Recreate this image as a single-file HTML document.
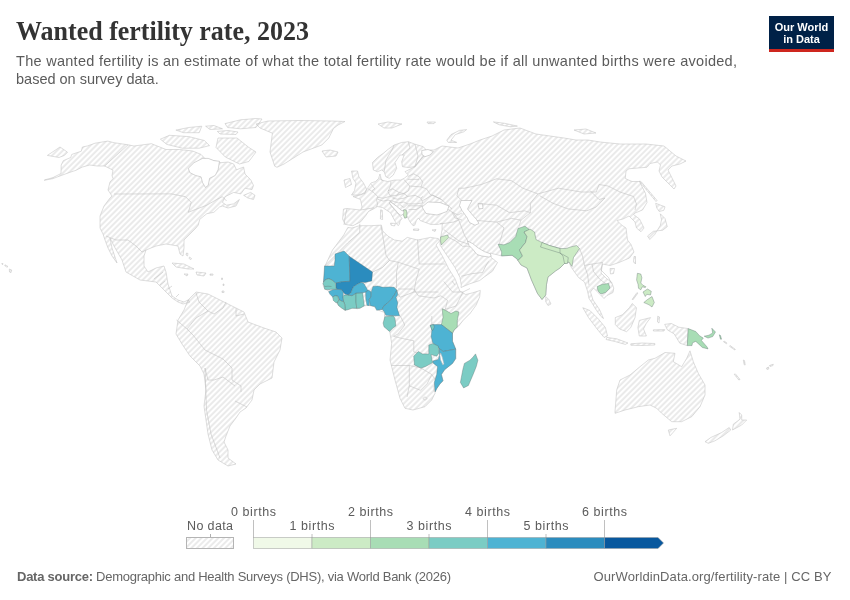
<!DOCTYPE html>
<html><head><meta charset="utf-8">
<style>
html,body{margin:0;padding:0;background:#fff;width:850px;height:600px;overflow:hidden}
svg{will-change:transform}
svg{display:block}
text{font-family:"Liberation Sans",sans-serif}
</style></head><body>
<svg width="850" height="600" viewBox="0 0 850 600">
<defs>
<pattern id="hatch" patternUnits="userSpaceOnUse" width="4" height="4" patternTransform="rotate(-45 2 2)">
<path d="M -1,2 l 6,0" stroke="#d6d6d6" stroke-width="1"/>
</pattern>
</defs>
<rect width="850" height="600" fill="#fff"/>
<text x="16" y="40" font-family="Liberation Serif" font-weight="bold" font-size="27.5" fill="#333" textLength="293" lengthAdjust="spacingAndGlyphs" style="font-family:'Liberation Serif',serif">Wanted fertility rate, 2023</text>
<text x="16" y="66.3" font-size="14.5" fill="#5b5b5b" textLength="721" lengthAdjust="spacing">The wanted fertility is an estimate of what the total fertility rate would be if all unwanted births were avoided,</text>
<text x="16" y="83.9" font-size="14.5" fill="#5b5b5b">based on survey data.</text>
<g id="logo">
<rect x="769" y="16" width="65" height="36" fill="#002147"/>
<rect x="769" y="49" width="65" height="3" fill="#ce261e"/>
<text x="801.5" y="30.6" font-size="11" font-weight="bold" fill="#fff" text-anchor="middle">Our World</text>
<text x="801.5" y="42.6" font-size="11" font-weight="bold" fill="#fff" text-anchor="middle">in Data</text>
</g>
<g id="map"><g fill="url(#hatch)" stroke="#c2c2c2" stroke-width="0.55" stroke-linejoin="round"><path d="M61.2,165 L63.3,160.7 L70.7,157.5 L71.8,154.4 L81.3,151.2 L82.4,147 L87.7,145.9 L95,143.2 L107.8,141.1 L114,142.7 L128,144.8 L134,146 L151.4,143.7 L166,149.5 L179.4,149.5 L192.6,151 L201,154.4 L205.8,159.4 L213.9,160.6 L221,162.7 L228,162 L233.7,164 L236.5,169.8 L243.6,167 L245,174 L250.7,179.7 L253.5,185.4 L252,189.6 L245,188.2 L240.8,193.9 L233.7,192.4 L225.2,196.7 L222.4,202.4 L226.6,205.2 L233.7,203.8 L239.4,199.5 L236,206 L228,208 L222.4,206 L219.5,207 L213.9,212.3 L206.8,213.7 L199.7,219.4 L198.3,225 L196,228 L190,234 L184,240 L184,248 L183,256 L180,254 L178,246 L166,244 L156,246 L146,250 L144,256 L144,266 L148,272 L156,268 L164,266 L166,272 L168,284 L172,296 L178,300 L184,302 L188,300 L190,302 L183,304 L178,302 L172,298 L166,292 L156,282 L148,281 L140,280 L126,272 L122,260 L114,246 L110,238 L112,248 L116,260 L117,263 L112,256 L108,248 L105,240 L103,234 L100,228 L100,220 L100,216 L104,206 L110,198 L112,196 L108,190 L110,182 L113,178.7 L112,175.5 L113,170.2 L108.9,168.1 L104.6,166 L97.2,166 L89.8,165 L82.4,167 L76,170.3 L69.7,172.4 L61.2,175.5 L52.7,178.7 L44.2,180.3 L45,179.8 L53,177.6 L61,173.5Z"/><path d="M47.4,155.4 L60,147 L64.4,150 L67.5,152.2 L64.4,155.4 L59,157.5Z"/><path d="M1.8,263.5 L3,263.5 L2.5,264.8Z"/><path d="M5,264.8 L8,266.5 L7,267.2 L4.8,265.8Z"/><path d="M9.3,269 L11.7,270 L11,272.7 L9.5,272Z"/><path d="M186.5,253 L188,253.5 L187.5,256 L186,255Z"/><path d="M189.5,257 L191.5,258.5 L191,259.5 L189,258.5Z"/><path d="M210,274 L213,274 L213,275.2 L210,275.2Z"/><path d="M221.5,278 L222.5,278 L222.5,279.5 L221.5,279.5Z"/><path d="M223,284 L224,284 L224,285.5 L223,285.5Z"/><path d="M222,291 L224,291 L224,292.5 L222,292.5Z"/><path d="M256,124 L268,121 L300,120.5 L332,121 L345,121.5 L338,125 L333.5,128.5 L328.8,138 L321.8,145 L303,152 L284,164 L277,167.3 L274.7,166.2 L270,152 L272.4,133.2 L260,128Z"/><path d="M225,123.6 L240.6,119.8 L256,118.5 L262,119 L256,127.5 L240.6,128.8 L227.6,127.5Z"/><path d="M217.3,131.4 L228,130.5 L238,132 L236,134.5 L220,134Z"/><path d="M205.6,126.2 L214,125.5 L222.5,128.8 L210,129.5Z"/><path d="M175.9,130.1 L188.8,127.5 L201.8,126.2 L199.2,132.7 L183.6,132.7Z"/><path d="M160.4,139.2 L169.4,135.3 L188.8,136.6 L204.4,140.5 L209.5,145.6 L199.2,148.2 L182.4,148.2 L166.8,144.4Z"/><path d="M218,138 L237,138 L248.8,147.4 L256,152 L248.8,161.5 L239.4,164 L225.3,157 L216,147.4Z"/><path d="M243.6,195.3 L250.7,192.4 L255,195.3 L253.5,199.5 L247.9,198Z"/><path d="M172,263 L184,264 L194,269 L188,269 L176,267Z"/><path d="M196,272 L206,273 L204,276 L197,275Z"/><path d="M184,274 L188,274 L187,276Z"/><path d="M188,300 L196,292 L208,294 L224,302 L236,308 L244,312 L248,322 L264,328 L276,332 L282,338 L280,350 L274,362 L272,378 L260,384 L254,390 L252,400 L246,408 L240,412 L236,418 L230,426 L226,436 L224,442 L228,450 L228,458 L236,464 L228,466 L218,460 L212,450 L208,434 L206,420 L204,406 L206,390 L204,374 L200,366 L190,356 L182,344 L176,334 L178,320 L184,310Z"/><path d="M345.2,224.4 L342.6,219.2 L343.5,209 L347,208.5 L360.5,210 L362,207 L360.5,199.5 L353,196.5 L360.5,195 L365,192 L368,187.5 L371,183 L375.5,181.5 L378.5,178.5 L380,174 L381.5,180 L387.5,181.5 L395,180 L400.8,180 L404.2,178.3 L408.3,175 L405,171.7 L415,166.7 L420,160 L424,154 L430,150 L434,150 L442,146 L458,148 L470,144 L480,140 L492,136 L504,130 L520,128 L536,134 L550,136 L564,138 L576,140 L588,140 L600,142 L620,144 L646,144 L664,146 L676,156 L686,161 L680,164 L672,166 L668,170 L672,178 L676,186 L674,189 L668,183 L662,177 L659,171 L660.5,165 L657.5,162 L650,163.5 L647,167.25 L629,168.75 L626,171 L625.25,178.5 L632,181.5 L639.5,181.5 L645.5,193.5 L647,202.5 L642.5,210 L635,213 L633.5,214.5 L639.5,219 L644,228 L641,231.75 L636.5,228 L635,222 L629,216 L623,219 L617,220.5 L621.5,225 L626,228 L627.5,240 L631,244.5 L634,252 L629.5,258 L619,262.5 L610,265.5 L602.5,264 L601,273 L607,279 L611.5,282 L613.75,288 L613,292.5 L607,295.5 L604,298.5 L599.5,294 L593.5,288 L590.5,292 L593,300 L599.5,309.5 L603.5,318.5 L601,316.5 L596.5,310.5 L592,303 L589,298.5 L587.5,291 L584.5,282 L578.5,277.5 L571,267 L569,262 L564.5,263.5 L560,268 L555.5,271 L548,277 L546.5,284.5 L545.75,295 L542,299.5 L537.5,293.5 L531.5,280 L527,268 L521,265 L518,260.5 L516.8,258.8 L512.1,255.3 L501.6,255.9 L490,253 L491.25,257.5 L497.5,262.5 L492.5,271.2 L484.3,277 L479.7,280.5 L469.2,284 L461,287.5 L461.25,285 L460,277.5 L455,267.5 L447.5,256.25 L440,245 L440,240 L440.9,236.1 L442,230 L442.2,223.1 L438.4,224.4 L430.6,224.4 L420.2,220.5 L418.5,218 L416.4,220.5 L414.8,225.2 L413,225.7 L409.9,221.8 L407.3,216.6 L405.4,218 L404.5,211.4 L401.2,210.6 L396.3,206.5 L390.5,201.5 L389.7,204 L394.7,209.8 L398.8,214.7 L402,218.5 L400,221 L399.5,224 L398.2,225.7 L396,223 L390.5,212.8 L382.7,207.6 L377.4,206.5 L373.6,208.9 L368.5,211.5 L365.9,215.4 L360.7,221.8 L352.9,225.7Z"/><path d="M372.5,162.5 L377.5,157.5 L383.3,153.3 L388.3,149.2 L394.2,145 L401.7,142.5 L408.3,141.7 L415,144.2 L423.3,146.7 L428,152 L420,160 L415,166.7 L408.3,167.5 L402.5,166.7 L401.7,161.7 L404.2,155 L400,155 L395,162.5 L396.7,168.3 L393.3,175 L389.2,178.3 L385.8,176.7 L384.2,171.7 L381.7,170 L377.5,171.7 L373.3,170Z"/><path d="M390.5,223.1 L395.6,223.5 L394.5,226 L391,225.2Z"/><path d="M380.6,209.8 L382.3,210.3 L382.6,219.5 L380.4,219Z"/><path d="M413.5,229 L419,229 L418.5,230.5 L413.5,230.3Z"/><path d="M432,230 L436,229.5 L435,231.5Z"/><path d="M351.5,171 L357.5,171 L359,177 L363.5,183 L366.5,189 L365,193.5 L357.5,195 L351.5,195 L354.5,190.5 L356,183 L353,178.5Z"/><path d="M344,180 L350,178.5 L351.5,184.5 L345.5,187.5Z"/><path d="M322,151 L330,150 L338,152 L336,156 L326,157Z"/><path d="M378,124 L388,122 L402,124 L392,128 L384,128Z"/><path d="M446.8,140.2 L451,134.6 L459.5,130.4 L466.6,129.6 L463.8,131.8 L455.3,134.6 L451,140.2 L456.7,142.4 L448.2,142.4Z"/><path d="M427,122 L435.5,122 L434,123.6 L428,123.6Z"/><path d="M493.4,121.9 L504.7,123.3 L517.4,126.1 L510.4,126.8 L499,124.7Z"/><path d="M574,130 L586,129 L596,133 L584,134Z"/><path d="M347.8,227.5 L352,228 L359.4,225.7 L371.1,225.7 L381.4,225.1 L382.7,230.9 L387.9,236.1 L394.4,240 L402.1,241.2 L407.3,237.4 L417.6,240 L430.6,237.4 L438.4,238.6 L439.5,241 L436,245 L442.5,256.25 L448.75,268.75 L455,278.75 L459.8,291 L465.7,294.5 L472.7,292.8 L480.3,290.4 L479.7,296.8 L476.2,305 L470.3,313.2 L463.3,320.2 L458.7,326 L454.1,330.1 L452.5,333.2 L452.5,341.2 L455.7,349.1 L455.7,358.6 L452.5,363.4 L444.6,369.7 L441.4,374.5 L443,380.8 L439.9,384 L436.7,388.7 L435.1,391.9 L435,393.3 L431.7,400 L425,406.7 L413,410 L405,408.3 L400,398.3 L395,380 L390,360 L391.7,343.3 L390,333.3 L389.75,331.25 L384.5,325.25 L384.5,317 L384.5,312.5 L378.5,310.25 L374,306.5 L370.25,305 L365,305.75 L357.5,308.75 L350,307.25 L344.75,310.25 L338,305 L333.5,296.75 L329,291.5 L324.5,288.5 L323,284.75 L323.75,280 L325,266 L332.5,250 L343.9,234.8Z"/><path d="M545.75,296.5 L548.75,299.5 L551,304 L548,305.5 L545.75,301.75Z"/><path d="M655.7,203.3 L665,206.8 L663.8,210.3 L659.2,211.5 L656.8,208Z"/><path d="M660.3,213.8 L665,218.5 L667.3,226.7 L662.7,230.2 L653.3,231.3 L647.5,236 L649.8,239.5 L654.5,234.8 L660.3,225.5 L661.5,219.7Z"/><path d="M639.3,181.2 L641,181.5 L657,200.5 L656,201.5Z"/><path d="M634,256.5 L635.5,256.5 L635.5,264 L633.5,262Z"/><path d="M610,268.5 L614.5,268.5 L613.5,273.5 L610.5,274Z"/><path d="M637,292.5 L637.8,293.2 L633,299.8 L632.2,299.3Z"/><path d="M615.3,317.6 L622.4,314.8 L629.4,307.7 L632.2,303.5 L636.5,307.7 L635,317.6 L630.8,327.5 L626.6,331.7 L619.5,328.9 L615.3,324.6Z"/><path d="M582.8,307.7 L589.9,310.5 L598.4,319 L605.4,327.5 L607.5,336 L604,337.4 L597,328.9 L588.5,317.6Z"/><path d="M606.8,337.4 L616.7,338.8 L628,343 L625.2,344.4 L615.3,341.6 L606.1,339.5Z"/><path d="M639.3,320.4 L650.6,317.6 L646.4,323.2 L643.5,328.9 L646.4,336 L639.3,336 L637.9,327.5Z"/><path d="M630.8,343.8 L642,343 L654.8,343.5 L654.8,345 L642,345.5 L630.8,345.2Z"/><path d="M664.7,324.4 L671.3,323.5 L678.8,327.2 L688.2,328.6 L687.3,345.6 L679.8,343.2 L674.1,333.8 L667.5,330Z"/><path d="M724,341 L727,343 L726.5,343.8 L723.5,341.8Z"/><path d="M730,345.5 L735.3,349.3 L734.8,350 L729.5,346.3Z"/><path d="M657.7,316.2 L659.5,317 L659,323 L657.5,322Z"/><path d="M653.4,329.8 L664.7,329.6 L664,331 L653.4,331Z"/><path d="M743.3,360 L744.5,360.5 L745.2,365 L744.2,364.8Z"/><path d="M734.2,374.2 L735.5,374 L740,379.5 L738.8,380Z"/><path d="M766.5,368 L768.5,367 L768.8,369 L767,369.5Z"/><path d="M769.5,365.5 L773.3,364.2 L773,365.5 L770,366.5Z"/><path d="M615,411.7 L616.7,390 L620,380 L630,375 L640,366.7 L648.3,360 L655,358.3 L665,352.5 L675,353.3 L673.3,361.7 L681.7,366.7 L686.7,358.3 L690,350.8 L693.3,361.7 L698.3,373.3 L705,385 L705,395 L700,406.7 L691.7,416.7 L681.7,421.7 L671.7,421.7 L661.7,413.3 L656.7,408.3 L650,405 L638.3,406.7 L625,410 L615,413.3Z"/><path d="M668.3,430 L676.7,428.3 L673,432.5 L670,435.8Z"/><path d="M705,441.7 L710.8,437.5 L721.7,432.5 L729.2,427.5 L730.8,430 L723.3,435.8 L715,440.8 L708.3,443.3Z"/><path d="M733.3,424.2 L740,419.2 L739.2,412.5 L741.7,415 L741.7,420 L746.7,420 L741.7,425 L732.5,430Z"/></g><g fill="none" stroke="#bfbfbf" stroke-width="0.55"><path d="M446,208 L452,212 L458,215 L462,213"/><path d="M452,212 L455,218 L462,220"/><path d="M154,279 L158,276 L163,272"/><path d="M160,285 L165,281"/><path d="M168,289 L172,286"/><path d="M176,297 L179,294"/><path d="M187.5,301 L189.5,299.5"/><path d="M360.5,210 L374,207.75"/><path d="M347,208.5 L345.5,215 L344,225"/><path d="M368.2,188.8 L373.8,192.6 L377.6,196.4 L376.6,200.1 L377.6,203.9 L376.6,207"/><path d="M371,184.1 L374.8,188.8 L372,190.7"/><path d="M380.4,179.4 L383,180.5"/><path d="M390.8,181.3 L390.8,185.1 L388,191.6"/><path d="M377.6,197.3 L383.2,198.2 L389.8,196.4 L394.5,197.3"/><path d="M388,190.7 L392.6,188.8 L399.2,192.6 L396.4,195.4 L389.8,195.4 L388,191.6"/><path d="M403.9,179.4 L409.6,186 L408.6,190.7 L403.9,193.5 L399.2,192.6"/><path d="M396.4,195.4 L403.9,193.5 L407.7,196.4 L403.9,198.2 L397.4,199.2 L392.6,198.2"/><path d="M377.6,199.2 L383.2,201.1 L388,200.1 L392.6,201.1"/><path d="M392.6,201.1 L398.3,202.9 L403.9,202 L407.7,203.9 L403.9,207.6 L400.2,204.8"/><path d="M407.7,196.4 L415.2,195.4 L420.9,198.2 L422.8,202.9 L416.2,203.9 L407.7,203.9"/><path d="M407.7,205.8 L422.8,205.8 L416.2,209.5 L408.6,209.5"/><path d="M409.6,186 L420.9,186.9 L426.5,188.8 L430.3,194.5 L435,196.4 L441.5,199.5"/><path d="M420.9,198.2 L422.8,196.4"/><path d="M407.7,176.6 L413.4,173.8 L419,176.6 L422.8,182.2 L420.9,186.9"/><path d="M407.7,179.4 L419,179.4"/><path d="M398,289 L413.8,289 L418.3,295.8 L434,298 L440.8,295.8 L447.5,300.3 L445.3,309.3"/><path d="M400.3,316 L404.8,325 L398,334 L393.5,336.3"/><path d="M431.8,316 L431.8,325"/><path d="M393.5,336.3 L402.5,338.5 L413.8,340.8 L413.8,352 L422.8,354.3"/><path d="M391.3,365.5 L409.3,365.5 L420.5,367.8"/><path d="M409.3,365.5 L409.3,385.8 L407,397"/><path d="M420.5,367.8 L431.8,374.5 L427.3,383.5 L420.5,390.3 L409.3,385.8"/><path d="M431.8,374.5 L436.3,381.3"/><path d="M434,385.8 L434,391.4"/><path d="M422.8,398.5 L425,396.8 L427.3,398.5 L425,400.3 L422.8,398.5"/><path d="M579.5,248.5 L582.5,256 L584.5,265.5 L587.5,274.5 L589,285"/><path d="M584.5,265.5 L592,264 L593.5,271.5 L599.5,279 L605.5,283.5"/><path d="M592,264 L602.5,262.5 L601,270 L608.5,277.5 L611.5,283.5"/><path d="M448.75,237.5 L456.25,241.25 L462.5,246.25 L471.25,246.25"/><path d="M461.25,276.25 L471.25,273.75 L482.5,272.5 L486.25,265 L488.75,261.25"/><path d="M455,285 L452,281"/><path d="M114,194 L160,193.9 L171.3,193.9 L185.5,196.7 L191.2,202.4 L188.3,212.3 L195.4,209.5 L206.8,205.2 L216.7,199.5 L222.4,196.7 L226.6,201"/><path d="M128,144.8 L104.6,166"/><path d="M106,236 L116,240 L128,240 L136,246 L142,252 L146,250"/><path d="M458.8,188.2 L464.5,188.2 L481.4,184.5 L496.5,178.8 L511.5,180.7 L522.8,188.2 L537.9,193.9 L558.6,188.2 L581.2,192 L596.2,192 L599,184.5 L608,186 L620,192 L633.5,196.5 L636.5,204 L635,210"/><path d="M458.8,188.2 L457,195.8 L460.7,199.5"/><path d="M539.8,195.8 L553,203.3 L568,208.9 L586.8,210.8 L596.2,207 L605,198 L599,199.5 L590,190.5"/><path d="M537.9,193.9 L530.4,203.3 L530.4,212.7"/><path d="M477.6,203.3 L496.5,205.2 L509.6,212.7 L524.7,210.8 L530.4,212.7 L521,220.2 L519,225.9"/><path d="M473.9,220.2 L496.5,222.1 L504,227.8"/><path d="M496.5,222.1 L511.5,218.4 L521,220.2"/><path d="M504,227.8 L499,245"/><path d="M453.2,212.7 L458.8,220.2 L464.5,235.3 L470.1,244.7"/><path d="M443.8,229.6 L458.8,240.9 L470.1,244.7"/><path d="M440,224 L453.2,222.1 L458.8,220.2"/><path d="M422,201 L432.5,195 L441.5,199.5 L452,209"/><path d="M384.2,171.7 L386,160 L392,150 L394.2,145"/><path d="M402,155 L410,148 L408.3,141.7"/><path d="M415,166.7 L418,156 L415,144.2"/><path d="M340.5,250 L347.5,243 L359.75,232.5 L359.75,223.75"/><path d="M324.5,266 L340.5,250"/><path d="M372.5,272 L382.5,267.5 L389.5,260.5 L386,255.25 L382.5,234.25 L380.75,225.5"/><path d="M389.5,260.5 L398.25,262.25 L419.25,269.25"/><path d="M417.5,239.5 L419.25,264 L445.5,264"/><path d="M398.25,262.25 L396.5,272.75 L396.5,288.5"/><path d="M350.7,293 L356,289 L364,283.7"/><path d="M419.25,269.25 L415.75,281.5 L414,292 L400,297.25 L396.5,291.5"/><path d="M414,292 L438.5,292"/><path d="M443.75,281.5 L452.5,292 L463,292 L456,306 L443.3,310"/><path d="M470,288.5 L463,292"/><path d="M196,293 L199,302 L208,311 L214,314 L223,308 L226,302"/><path d="M236,308 L236,316 L244,314"/><path d="M176.5,320 L187,329 L193,335 L205,350 L223,359 L232,368 L232,380 L241,386 L241,392"/><path d="M187,329 L196,318 L208,311"/><path d="M205,368 L208,380 L214,380 L223,377 L235,386"/><path d="M205,368 L206.5,410 L211,434 L220,458"/><path d="M235,401 L247,407"/></g><g stroke="#5a6a6a" stroke-opacity="0.6" stroke-width="0.6" stroke-linejoin="round"><path d="M344,251 L349.2,256.2 L350,281.3 L342.7,281.7 L336,283 L335.3,283 L332,280 L328.7,278.7 L325.3,279.7 L323.5,282 L324,275 L324.5,266 L334.25,266 L335,260 L335,254Z" fill="#4eb3d3"/><path d="M349.2,256.2 L372.5,272 L371.75,281 L365,282.5 L361.3,282.3 L357.3,284.3 L353.3,287 L350.7,293 L348,295 L345.3,294.3 L343.3,292.3 L341.3,289.7 L336.7,289.3 L336,287.7 L336,283 L342.7,281.7 L350,281.3Z" fill="#2b8cbe"/><path d="M323,283.3 L325.3,279.7 L328.7,278.7 L332,280 L335.3,283 L336,287.7 L336.7,289.3 L330.7,289.3 L328.7,289.7 L324.7,289.3 L324,285.7Z" fill="#7bccc4"/><path d="M328.7,291.7 L332.7,289.7 L336.7,289.3 L341.3,289.7 L343.3,292.3 L343,297 L343.7,301.7 L341.3,301 L339.3,299.7 L338,296.3 L335.3,295.7 L332.7,297 L330,294.3Z" fill="#4eb3d3"/><path d="M332.7,297 L335.3,295.7 L338,296.3 L338.7,300.3 L337.3,303 L335.3,302.3 L333.3,300.3Z" fill="#7bccc4"/><path d="M343.7,301.7 L343,297 L344,295 L348,295 L352,295.7 L356,293 L356,301.7 L356.7,308.3 L352,308.3 L348,309.7 L345.3,310.3 L344.7,304.3Z" fill="#7bccc4"/><path d="M356,293 L362.7,292.7 L363.3,298.3 L364.3,305.7 L360,308.3 L356.7,308.3 L356,301.7Z" fill="#7bccc4"/><path d="M350.7,293 L353.3,287 L357.3,284.3 L361.3,282.3 L364,283.7 L366.7,288.3 L368,291 L365.3,292.3 L362.7,292.7 L356,293 L352,295.7 L348,295Z" fill="#4eb3d3"/><path d="M365.7,291.9 L368.4,290.1 L371.2,291.9 L371.2,296.5 L369.3,299.3 L369.3,305.7 L367,305.2 L365.7,298.3Z" fill="#4eb3d3"/><path d="M371.2,291.9 L373,286.4 L377.6,286 L383.1,287.3 L389.5,286.9 L394.1,287.3 L396.9,290.1 L395,293.8 L391.4,299.3 L386.8,303.9 L384,305.7 L382.2,309.4 L376.7,310.3 L374.8,306.6 L370.3,305.7 L369.3,299.3 L371.2,296.5Z" fill="#4eb3d3"/><path d="M396.9,290.1 L397.8,294.7 L396,297.4 L397.8,302.9 L396.9,307.5 L399.6,315.8 L393.2,315.8 L385.9,315.3 L384,311.2 L382.2,309.4 L384,305.7 L386.8,303.9 L391.4,299.3 L395,293.8Z" fill="#4eb3d3"/><path d="M384.9,316.7 L390.4,316.2 L393.2,315.8 L395,318.5 L395.9,325.9 L393.2,327.7 L389.5,331.4 L384,326.8 L383.1,323.1Z" fill="#7bccc4"/><path d="M337.3,303 L339.3,299.7 L341.3,301 L343.7,301.7 L344.7,304.3 L345.3,310.3 L342,308.3 L338.7,305.7Z" fill="#7bccc4"/><path d="M442.2,308.7 L447,311.1 L450.9,313.5 L455.7,311.1 L458.9,311.9 L457.3,320.6 L457.3,326.9 L454.1,330.1 L452.5,333.2 L441.4,324.6 L443,317.4Z" fill="#a8ddb5"/><path d="M430.3,325.3 L433.5,324.6 L441.4,324.6 L452.5,333.2 L452.5,341.2 L455.7,349.1 L443,351.5 L439.1,348.3 L432.7,342.8 L431.1,336.4 L431.9,330.1Z" fill="#4eb3d3"/><path d="M439.1,348.3 L443,351.5 L455.7,349.1 L455.7,358.6 L452.5,363.4 L444.6,369.7 L441.4,374.5 L443,380.8 L439.9,384 L436.7,388.7 L435.1,391.9 L434.3,382.4 L436.7,374.5 L437.5,366.5 L433.5,363.4 L432.7,361 L438.3,359.4 L439.5,355Z" fill="#4eb3d3"/><path d="M428.8,345.1 L432.7,343.5 L438.3,346 L439.1,353 L436.7,356.2 L431.1,354.6 L431.9,359.4 L432.7,362.6 L425.6,366.5 L420.8,368.1 L414.5,365 L413.7,356.2 L418.5,351.5 L422.4,353.9 L428.8,353.9Z" fill="#7bccc4"/><path d="M430.3,325.3 L433.5,324.6 L434.3,327 L433,330.1 L431.9,330.1Z" fill="#7bccc4"/><path d="M475.5,353.9 L477.9,360.2 L476.3,366.5 L473.1,374.5 L468.4,385.5 L463.6,387.9 L460.4,382.4 L462.8,369.7 L464.4,363.4 L469.9,360.2 L473.1,357Z" fill="#7bccc4"/><path d="M440.6,236.9 L447.5,235 L448.75,237.5 L445,241.25 L441.25,245 L440.6,241.25Z" fill="#ccebc5"/><path d="M403.7,209.7 L406.2,210 L407,213 L406.7,217.5 L404.7,218.2 L403.2,214.5 L403.2,211.5Z" fill="#ccebc5"/><path d="M498.1,244.2 L504,244.8 L509.8,242.5 L515.6,236.7 L518,228.5 L525,226.2 L529.6,229.7 L524,232 L527,236.5 L525.5,242.5 L519.5,250 L522.5,256 L518,260.5 L516.8,258.8 L512.1,255.3 L501.6,255.9 L501.6,251.8Z" fill="#a8ddb5"/><path d="M524,232 L530,229 L534.5,232 L536,239.5 L542,242.5 L549.5,245.5 L560,248.5 L566,248.5 L570.5,247 L576.5,245.5 L579.5,248.5 L576.5,253 L573.5,257.5 L572,266.5 L569,262 L564.5,263.5 L560,268 L555.5,271 L548,277 L546.5,284.5 L545.75,295 L542,299.5 L537.5,293.5 L531.5,280 L527,268 L521,265 L518,260.5 L522.5,256 L519.5,250 L525.5,242.5 L527,236.5Z" fill="#ccebc5"/><path d="M542,242.5 L549.5,245.5 L560,248.5 L560,253 L540.5,247Z" fill="#ccebc5"/><path d="M560,253 L563,256 L564.5,263.5 L567.5,263.5 L568.25,257.5Z" fill="#ccebc5"/><path d="M719.3,334.8 L720.5,335.5 L721.5,339.2 L720.5,339.2Z" fill="#a8ddb5"/><path d="M597.25,286.5 L602.5,284.25 L608.5,283.5 L610,288 L605.5,292.5 L601,294 L598,291Z" fill="#a8ddb5"/><path d="M637.4,273.3 L640.8,274 L641.9,277.8 L640.8,283 L643,285.3 L646,286.8 L645.3,287.5 L642.3,286.8 L640.8,289.8 L638.5,288.3 L638.1,284.5 L636.6,280 L637,276.3Z" fill="#ccebc5"/><path d="M647.5,299.5 L652,296.5 L654.3,302.5 L652,307 L649,304.8 L643.8,302.5Z" fill="#ccebc5"/><path d="M647.5,289 L651.3,291.3 L650.5,295 L646.8,294.3 L645.3,296.5 L643,292Z" fill="#ccebc5"/><path d="M688.2,328.6 L695.8,331.5 L699.5,335.7 L703.3,338.1 L701.4,340.4 L707.1,347 L708,348.9 L702.4,347.5 L695.8,341.4 L692.5,342.8 L692,345.6 L687.3,345.6Z" fill="#a8ddb5"/><path d="M704.2,336.2 L708.9,335.2 L712.7,332.9 L711.8,328.2 L715.5,332 L712.7,336.6 L708,338.1Z" fill="#a8ddb5"/></g><g fill="none" stroke="#5a6a6a" stroke-opacity="0.6" stroke-width="0.6"><path d="M324.5,286.6 L328,286.2 L331.5,286.5"/></g><g fill="#fff" stroke="#b8b8b8" stroke-width="0.6"><path d="M188.3,168.3 L194,162.7 L202.5,158.4 L208.2,158.4 L213.9,160.6 L219.5,161.3 L218.1,169.8 L215.3,175.4 L209.6,178.3 L208.2,185.4 L205.4,187.5 L202.5,182.5 L201.1,176.9 L195.4,175.4 L189.8,172.6Z"/><path d="M390,201.5 L396.3,206 L401.2,210.2 L404,211.5 L403.5,214 L401,215.5 L398.8,214 L394.7,209.3 L389.7,203.5Z"/><path d="M421.7,150.5 L428,149.5 L433.3,151.5 L430,155 L425,156.7 L422,154.5Z"/><path d="M422,207 L428,202 L440,202.5 L449,206 L447,211.5 L437,215 L426,213.5Z"/><path d="M461,200.5 L472,200.5 L469,206 L467.5,209 L472.5,215 L476.5,219.5 L479,223.5 L475,225.2 L469.5,222.5 L467,217.5 L462,210.5 L459.5,205.5Z"/><path d="M478,204 L482.5,203.8 L483,208.5 L479,208.8Z"/><path d="M467.5,241 L472.5,243.5 L478.3,248 L484.2,251.5 L490.5,253.8 L491,256.5 L488.8,257 L481.8,256 L477,254.5 L472.5,249 L469,245.5Z"/><path d="M440.6,353 L442.2,357 L443.8,363.4 L443,365 L440.6,360 L439.9,355.4Z"/></g></g>
<g id="legend" font-size="12.5" fill="#5b5b5b">
<rect x="186.5" y="537.5" width="47" height="11" fill="url(#hatch)" stroke="#b4b4b4" stroke-width="1"/>
<line x1="210.5" y1="534" x2="210.5" y2="537" stroke="#b0b0b0"/>
<text x="210" y="530" text-anchor="middle" textLength="46" lengthAdjust="spacing">No data</text>
<g stroke="#c0c0c0" stroke-width="1">
<line x1="253.5" y1="520" x2="253.5" y2="537"/>
<line x1="370.5" y1="520" x2="370.5" y2="537"/>
<line x1="487.5" y1="520" x2="487.5" y2="537"/>
<line x1="604.5" y1="520" x2="604.5" y2="537"/>
<line x1="312" y1="534" x2="312" y2="537"/>
<line x1="429" y1="534" x2="429" y2="537"/>
<line x1="546" y1="534" x2="546" y2="537"/>
</g>
<g stroke="#9a9a9a" stroke-width="0.5">
<rect x="253.5" y="537.5" width="58.5" height="11" fill="#f0f9e8"/>
<rect x="312" y="537.5" width="58.5" height="11" fill="#ccebc5"/>
<rect x="370.5" y="537.5" width="58.5" height="11" fill="#a8ddb5"/>
<rect x="429" y="537.5" width="58.5" height="11" fill="#7bccc4"/>
<rect x="487.5" y="537.5" width="58.5" height="11" fill="#4eb3d3"/>
<rect x="546" y="537.5" width="58.5" height="11" fill="#2b8cbe"/>
<path d="M604.5 537.5 H658 L663.5 543 L658 548.5 H604.5 Z" fill="#08589e"/>
</g>
<text x="253.5" y="515.5" text-anchor="middle" textLength="45" lengthAdjust="spacing">0 births</text>
<text x="312" y="530" text-anchor="middle" textLength="45" lengthAdjust="spacing">1 births</text>
<text x="370.5" y="515.5" text-anchor="middle" textLength="45" lengthAdjust="spacing">2 births</text>
<text x="429" y="530" text-anchor="middle" textLength="45" lengthAdjust="spacing">3 births</text>
<text x="487.5" y="515.5" text-anchor="middle" textLength="45" lengthAdjust="spacing">4 births</text>
<text x="546" y="530" text-anchor="middle" textLength="45" lengthAdjust="spacing">5 births</text>
<text x="604.5" y="515.5" text-anchor="middle" textLength="45" lengthAdjust="spacing">6 births</text>
</g>
<text x="17" y="580.8" font-size="13" fill="#666" textLength="434" lengthAdjust="spacing"><tspan font-weight="bold">Data source:</tspan> Demographic and Health Surveys (DHS), via World Bank (2026)</text>
<text x="593.5" y="580.8" font-size="13" fill="#666" textLength="238" lengthAdjust="spacing">OurWorldinData.org/fertility-rate | CC BY</text>
</svg>
</body></html>
